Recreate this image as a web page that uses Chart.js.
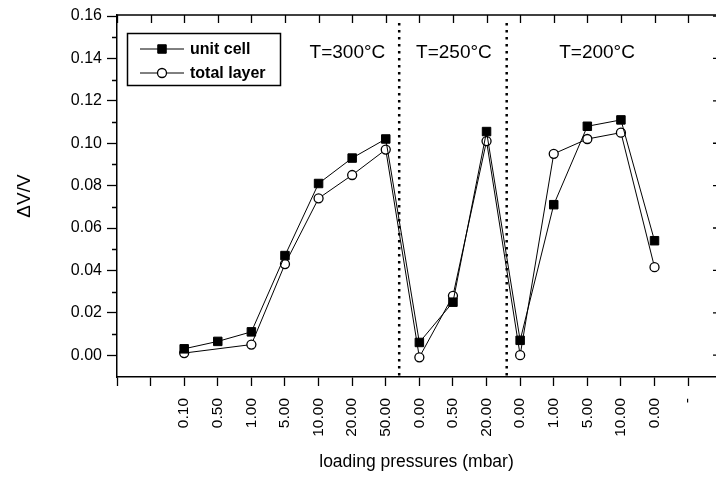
<!DOCTYPE html>
<html lang="en">
<head>
    <meta charset="UTF-8">
    <title>ΔV/V vs loading pressures</title>
    <script src="https://cdn.jsdelivr.net/npm/chart.js"></script>
    <style>
        body {
            margin: 0;
            background-color: #fff;
            overflow: hidden;
        }
        .chart-box {
            width: 716px;
            height: 485px;
        }
    </style>
</head>
<body>
    <div class="chart-box">
        <canvas id="myChart" width="716" height="485"></canvas>
    </div>

    <script>
        // measured loading pressures (mbar), in order of the runs
        const pressureLabels = ['0.10', '0.50', '1.00', '5.00', '10.00', '20.00', '50.00',
                                '0.00', '0.50', '20.00',
                                '0.00', '1.00', '5.00', '10.00', '0.00'];
        // tick labels along the x axis (two empty slots before, a dash after)
        const tickLabels = ['', ''].concat(pressureLabels, ['-']);

        const unitCell   = [0.003, 0.0065, 0.011, 0.047, 0.081, 0.093, 0.102,
                            0.006, 0.025, 0.1055,
                            0.007, 0.071, 0.108, 0.111, 0.054];
        const totalLayer = [0.001, null, 0.005, 0.043, 0.074, 0.085, 0.097,
                            -0.001, 0.028, 0.101,
                            0.000, 0.095, 0.102, 0.105, 0.0415];

        const yTicks = [0, 0.02, 0.04, 0.06, 0.08, 0.10, 0.12, 0.14, 0.16];
        const yMinorTicks = [0.01, 0.03, 0.05, 0.07, 0.09, 0.11, 0.13, 0.15];

        // temperature regions: dotted separators and their labels (x in tick units)
        const dividers = [8.4, 11.6];
        const tempLabels = ['T=300°C', 'T=250°C', 'T=200°C'];
        const tempX = [6.86, 10.03, 14.29];
        const tempY = 0.1425;

        const FONT = 'Arial, "Liberation Sans", sans-serif';
        const firstIndex = 2; // first pressure sits on the third tick

        const toPoints = arr => arr.map((v, i) => ({ x: i + firstIndex, y: v }));

        // extra drawing: frame, inward ticks, minor ticks, separators, labels, legend
        const decorPlugin = {
            id: 'decor',
            afterDraw(chart) {
                const { ctx, chartArea: a, scales: { x, y } } = chart;
                ctx.save();
                ctx.strokeStyle = '#000';
                ctx.fillStyle = '#000';

                // top frame line
                ctx.lineWidth = 1.5;
                ctx.beginPath();
                ctx.moveTo(a.left, a.top);
                ctx.lineTo(a.right, a.top);
                ctx.stroke();

                // top ticks pointing inward
                ctx.lineWidth = 1.3;
                ctx.beginPath();
                tickLabels.forEach((_, i) => {
                    const px = Math.round(x.getPixelForValue(i)) + 0.5;
                    ctx.moveTo(px, a.top);
                    ctx.lineTo(px, a.top + 8);
                });
                // right ticks pointing inward (axis itself is just off the page)
                yTicks.forEach(v => {
                    const py = y.getPixelForValue(v);
                    ctx.moveTo(a.right, py);
                    ctx.lineTo(a.right - 3, py);
                });
                // left minor ticks
                yMinorTicks.forEach(v => {
                    const py = Math.round(y.getPixelForValue(v)) + 0.5;
                    ctx.moveTo(a.left, py);
                    ctx.lineTo(a.left - 5, py);
                });
                ctx.stroke();

                // dotted separators between temperatures
                ctx.lineWidth = 2.5;
                ctx.setLineDash([2.5, 4.5]);
                ctx.beginPath();
                dividers.forEach(d => {
                    const px = x.getPixelForValue(d);
                    ctx.moveTo(px, a.top + 8);
                    ctx.lineTo(px, a.bottom);
                });
                ctx.stroke();
                ctx.setLineDash([]);

                // temperature labels
                ctx.font = '19px ' + FONT;
                ctx.textAlign = 'center';
                ctx.textBaseline = 'middle';
                tempLabels.forEach((t, i) => {
                    ctx.fillText(t, x.getPixelForValue(tempX[i]), y.getPixelForValue(tempY));
                });

                // legend box
                ctx.lineWidth = 1.5;
                ctx.strokeRect(127.5, 33.5, 153, 52);
                const rows = [
                    { label: 'unit cell', y: 49, ds: chart.data.datasets[0] },
                    { label: 'total layer', y: 73, ds: chart.data.datasets[1] }
                ];
                ctx.textAlign = 'left';
                ctx.font = 'bold 16px ' + FONT;
                rows.forEach(r => {
                    ctx.lineWidth = 1;
                    ctx.beginPath();
                    ctx.moveTo(140, r.y);
                    ctx.lineTo(184, r.y);
                    ctx.stroke();
                    ctx.fillStyle = r.ds.pointBackgroundColor;
                    ctx.strokeStyle = '#000';
                    ctx.lineWidth = r.ds.pointBorderWidth;
                    ctx.beginPath();
                    if (r.ds.pointStyle === 'circle') {
                        ctx.arc(162, r.y, r.ds.pointRadius, 0, Math.PI * 2);
                    } else {
                        const s = r.ds.pointRadius * Math.SQRT1_2;
                        ctx.rect(162 - s, r.y - s, 2 * s, 2 * s);
                    }
                    ctx.fill();
                    ctx.stroke();
                    ctx.fillStyle = '#000';
                    ctx.fillText(r.label, 190, r.y + 1);
                });

                ctx.restore();
            }
        };

        const ctx = document.getElementById('myChart').getContext('2d');
        const myChart = new Chart(ctx, {
            type: 'line',
            data: {
                datasets: [
                    {
                        label: 'unit cell',
                        data: toPoints(unitCell),
                        borderColor: '#000',
                        borderWidth: 1,
                        pointStyle: 'rect',
                        pointRadius: 6,
                        pointBorderWidth: 1,
                        pointBorderColor: '#000',
                        pointBackgroundColor: '#000',
                        tension: 0
                    },
                    {
                        label: 'total layer',
                        data: toPoints(totalLayer),
                        borderColor: '#000',
                        borderWidth: 1,
                        pointStyle: 'circle',
                        pointRadius: 4.5,
                        pointBorderWidth: 1.3,
                        pointBorderColor: '#000',
                        pointBackgroundColor: '#fff',
                        spanGaps: true,
                        tension: 0
                    }
                ]
            },
            options: {
                responsive: false,
                animation: false,
                layout: {
                    autoPadding: false,
                    padding: { top: 15, right: 0, left: 0, bottom: 0 }
                },
                plugins: {
                    legend: { display: false },
                    tooltip: { enabled: false }
                },
                scales: {
                    x: {
                        type: 'linear',
                        min: 0,
                        max: 17.83,
                        afterBuildTicks: scale => {
                            scale.ticks = tickLabels.map((_, i) => ({ value: i }));
                        },
                        afterFit: scale => {
                            scale.height = 108;
                            scale.paddingLeft = 0;
                            scale.paddingRight = 0;
                        },
                        ticks: {
                            autoSkip: false,
                            minRotation: 90,
                            maxRotation: 90,
                            padding: 12,
                            color: '#000',
                            font: { family: FONT, size: 15.5 },
                            callback: v => tickLabels[v] ?? ''
                        },
                        grid: {
                            drawOnChartArea: false,
                            drawTicks: true,
                            tickLength: 9,
                            tickColor: '#000',
                            tickWidth: 1.3
                        },
                        border: { display: true, color: '#000', width: 1.5 },
                        title: {
                            display: true,
                            text: 'loading pressures (mbar)',
                            color: '#000',
                            font: { family: FONT, size: 17.5 },
                            padding: { top: 0, bottom: 12 }
                        }
                    },
                    y: {
                        min: -0.0103,
                        max: 0.1605,
                        afterBuildTicks: scale => {
                            scale.ticks = yTicks.map(v => ({ value: v }));
                        },
                        afterFit: scale => { scale.width = 117; },
                        ticks: {
                            padding: 5,
                            color: '#000',
                            font: { family: FONT, size: 16 },
                            callback: v => v.toFixed(2)
                        },
                        grid: {
                            drawOnChartArea: false,
                            drawTicks: true,
                            tickLength: 10,
                            tickColor: '#000',
                            tickWidth: 1.3
                        },
                        border: { display: true, color: '#000', width: 1.5 },
                        title: {
                            display: true,
                            text: 'ΔV/V',
                            color: '#000',
                            font: { family: FONT, size: 19 },
                            padding: { top: 13, bottom: 0 }
                        }
                    }
                }
            },
            plugins: [decorPlugin]
        });
    </script>
</body>
</html>
